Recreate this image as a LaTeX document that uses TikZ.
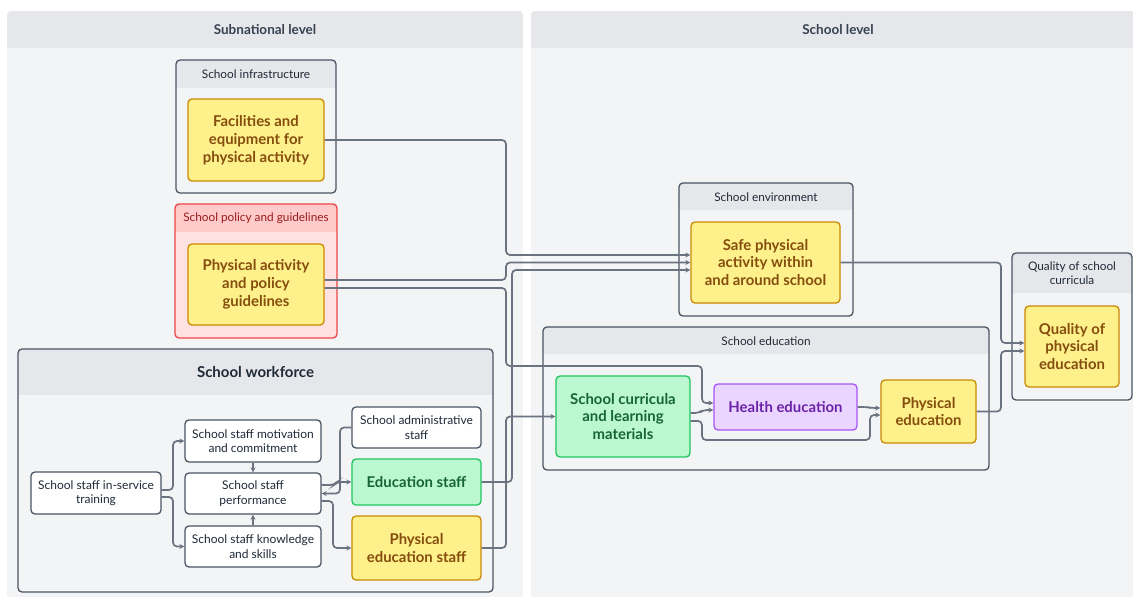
\documentclass[tikz,border=0pt]{standalone}
\usepackage{fontspec}
\setmainfont{Lato}
\usetikzlibrary{arrows.meta}

\definecolor{panelbody}{HTML}{F3F4F6}
\definecolor{panelhead}{HTML}{E5E7EB}
\definecolor{bodyG}{HTML}{F3F4F6}
\definecolor{headG}{HTML}{E5E7EB}
\definecolor{lineG}{HTML}{4B5563}
\definecolor{bodyR}{HTML}{FEE2E2}
\definecolor{headR}{HTML}{FECACA}
\definecolor{lineR}{HTML}{EF4444}
\definecolor{titleG}{HTML}{1F2937}
\definecolor{titleR}{HTML}{991B1B}
\definecolor{yelFill}{HTML}{FEF08A}
\definecolor{yelLine}{HTML}{CA8A04}
\definecolor{yelText}{HTML}{854D0E}
\definecolor{grnFill}{HTML}{BBF7D0}
\definecolor{grnLine}{HTML}{22C55E}
\definecolor{grnText}{HTML}{166534}
\definecolor{purFill}{HTML}{E9D5FF}
\definecolor{purLine}{HTML}{A855F7}
\definecolor{purText}{HTML}{6B21A8}
\definecolor{wire}{HTML}{6B7280}
\definecolor{headText}{HTML}{374151}

% group frame: x1, y1, x2, y2, bottom of header band, colour set (G or R)
\newcommand\grp[6]{%
  \begin{scope}
    \clip[rounded corners=4pt] (#1,#2) rectangle (#3,#4);
    \fill[body#6] (#1,#2) rectangle (#3,#4);
    \fill[head#6] (#1,#2) rectangle (#3,#5);
  \end{scope}
  \draw[line#6, line width=1.3pt, rounded corners=4pt] (#1,#2) rectangle (#3,#4);
}

\begin{document}
\begin{tikzpicture}[x=1pt, y=-1pt,
  box/.style={rounded corners=4pt, line width=1.3pt, align=center, inner sep=0pt},
  plain/.style={box, draw=lineG, fill=white, text=titleG,
    font=\fontsize{12}{14.5}\selectfont},
  yel/.style={box, draw=yelLine, fill=yelFill, text=yelText,
    font=\fontsize{14.9}{17.8}\selectfont\bfseries},
  grn/.style={box, draw=grnLine, fill=grnFill, text=grnText,
    font=\fontsize{14.9}{17.8}\selectfont\bfseries},
  pur/.style={box, draw=purLine, fill=purFill, text=purText,
    font=\fontsize{14.9}{17.8}\selectfont\bfseries},
  gtitle/.style={text=titleG, align=center, inner sep=0pt,
    font=\fontsize{11.8}{14.5}\selectfont},
  ptitle/.style={text=headText, inner sep=0pt,
    font=\fontsize{13.5}{16}\selectfont\bfseries},
  conn/.style={draw=wire, line width=1.7pt, rounded corners=4pt,
    -{Stealth[length=5pt, width=5pt]}},
  wh/.style 2 args={minimum width=#1pt, minimum height=#2pt},
]
\useasboundingbox (0,0) rectangle (1133,597);
\fill[white] (0,0) rectangle (1133,597);

% level panels
\begin{scope}
  \clip[rounded corners=4pt] (7,11) rectangle (523,610);
  \fill[panelbody] (7,11) rectangle (523,597);
  \fill[panelhead] (7,11) rectangle (523,48);
\end{scope}
\begin{scope}
  \clip[rounded corners=4pt] (531,11) rectangle (1145,610);
  \fill[panelbody] (531,11) rectangle (1133,597);
  \fill[panelhead] (531,11) rectangle (1133,48);
\end{scope}
\node[ptitle] (tSub) at (265,30) {Subnational level};
\node[ptitle] (tSch) at (838,30) {School level};

% groups
\grp{176}{60}{336}{193}{88}{G}
\node[gtitle] (tInfra) at (256,74) {School infrastructure};
\grp{175}{204}{337}{338}{232}{R}
\node[gtitle, text=titleR] (tPol) at (256,218) {School policy and guidelines};
\grp{18}{349}{493}{592}{395}{G}
\node[gtitle, font=\fontsize{15}{18}\selectfont\bfseries] (tWork) at (255.5,372) {School workforce};
\grp{679}{183}{853}{316}{210}{G}
\node[gtitle] (tEnv) at (766,197) {School environment};
\grp{543}{327}{989}{470}{354}{G}
\node[gtitle] (tEdu) at (766,341) {School education};
\grp{1012}{253}{1132}{400}{293}{G}
\node[gtitle] (tQual) at (1072,273) {Quality of school\\curricula};

% nodes
\node[yel, wh={136}{82}] (fac) at (256,140) {Facilities and\\equipment for\\physical activity};
\node[yel, wh={136}{81}] (pol) at (256,284.5) {Physical activity\\and policy\\guidelines};
\node[plain, wh={130}{42}] (tr) at (96,493) {School staff in-service\\training};
\node[plain, wh={136}{42}] (mot) at (253,441) {School staff motivation\\and commitment};
\node[plain, wh={136}{41}] (perf) at (253,493.5) {School staff\\performance};
\node[plain, wh={136}{41}] (kno) at (253,546.5) {School staff knowledge\\and skills};
\node[plain, wh={129}{41}] (adm) at (416.5,427.5) {School administrative\\staff};
\node[grn, wh={129}{46}] (ed) at (416.5,482) {Education staff};
\node[yel, wh={129}{64}] (pes) at (416.5,548) {Physical\\education staff};
\node[yel, wh={149}{81}] (safe) at (765.5,262.5) {Safe physical\\activity within\\and around school};
\node[grn, wh={134}{81}] (cur) at (623,416.5) {School curricula\\and learning\\materials};
\node[pur, wh={143}{46}] (hea) at (785.5,407) {Health education};
\node[yel, wh={95}{63}] (pe) at (928.5,411.5) {Physical\\education};
\node[yel, wh={94}{81}] (q) at (1072,346.5) {Quality of\\physical\\education};

% workforce links
\draw[conn] ([yshift=3pt]tr.east) -| (173,441) -- (mot.west);
\draw[conn] ([yshift=-4pt]tr.east) -| (173,546.5) -- (kno.west);
\draw[conn] (mot.south) -- (perf.north);
\draw[conn] (kno.north) -- (perf.south);
\draw[conn] ([yshift=8.5pt]perf.east) -- (334,485) -- (337,482) -- (ed.west);
\draw[conn] (adm.west) -| (340,493.5) -- (perf.east);
\draw[conn] ([yshift=-7.5pt]perf.east) -| (333,548) -- (pes.west);

% subnational to school level
\draw[conn] (fac.east) -| (506,255) -- ([yshift=7.5pt]safe.west);
\draw[conn] ([yshift=4.5pt]pol.east) -| (506,262.5) -- (safe.west);
\draw[conn] ([yshift=-3.5pt]pol.east) -| (506,366) -| (702,403) -- ([yshift=4pt]hea.west);
\draw[conn] (ed.east) -| (512,270) -- ([yshift=-7.5pt]safe.west);
\draw[conn] (pes.east) -| (506,416.5) -- (cur.west);

% school level links
\draw[conn] ([yshift=3.5pt]cur.east) -- (699,413) -- (703,410) -- ([yshift=-3pt]hea.west);
\draw[conn] ([yshift=-4.5pt]cur.east) -| (702,440) -| (870,415) -- ([yshift=-3.5pt]pe.west);
\draw[conn] (hea.east) -- (867,407) -- (871,408) -- ([yshift=3.5pt]pe.west);
\draw[conn] (safe.east) -| (1001,343) -- ([yshift=3.5pt]q.west);
\draw[conn] (pe.east) -| (1001,351) -- ([yshift=-4.5pt]q.west);
\end{tikzpicture}
\end{document}
